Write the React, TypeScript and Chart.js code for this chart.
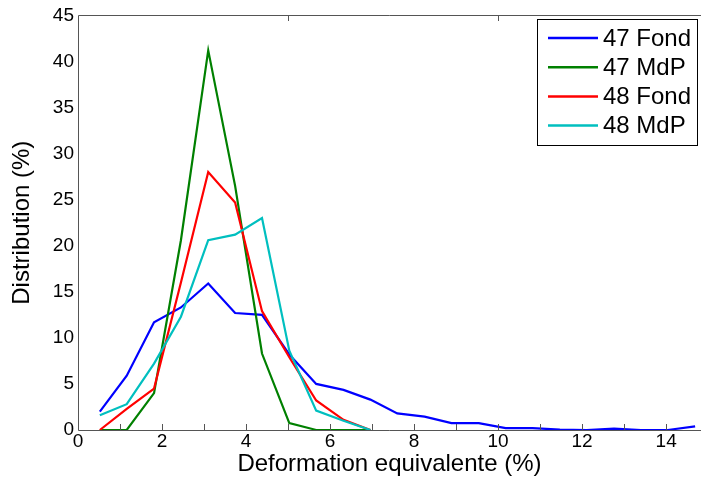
import React, { useEffect, useRef } from "react";
import { Chart, registerables } from "chart.js";

Chart.register(...registerables);

const X_VALUES = [0.52, 1.16, 1.81, 2.45, 3.1, 3.74, 4.38, 5.03, 5.67, 6.32, 6.96, 7.6, 8.25, 8.89, 9.54, 10.18, 10.82, 11.47, 12.11, 12.76, 13.4, 14.04, 14.69];
const FOND_47 = [2.0, 5.9, 11.7, 13.3, 15.9, 12.7, 12.5, 8.2, 5.0, 4.35, 3.3, 1.8, 1.45, 0.75, 0.75, 0.2, 0.2, 0.05, 0, 0.15, 0, 0, 0.4];
const MDP_47 = [0, 0, 4.0, 20.6, 41.2, 26.5, 8.3, 0.75, 0, 0, 0];
const FOND_48 = [0, 2.3, 4.5, 16.0, 28.0, 24.7, 12.9, 7.9, 3.2, 1.1, 0];
const MDP_48 = [1.6, 2.8, 7.2, 12.3, 20.6, 21.2, 23.0, 8.6, 2.1, 1.0, 0];

const SERIES_LABELS = ["47 Fond", "47 MdP", "48 Fond", "48 MdP"];
const SERIES_COLORS = ["#0000ff", "#008000", "#ff0000", "#00bfbf"];

const X_LABEL_TICKS = [0, 2, 4, 6, 8, 10, 12, 14];
const X_MINOR_TICKS = [1, 2, 3, 4, 5, 6, 7, 8, 9, 10, 11, 12, 13, 14];
const X_TOP_TICKS = [5, 10];
const Y_TICKS = [0, 5, 10, 15, 20, 25, 30, 35, 40, 45];

const X_TITLE = "Deformation equivalente (%)";
const Y_TITLE = "Distribution (%)";

const FONT = "'Liberation Sans', Arial, sans-serif";

const toPoints = (vals: number[]) => vals.map((v, i) => ({ x: X_VALUES[i], y: v }));

const framePlugin = {
  id: "frame",
  afterDatasetsDraw(chart: any) {
    const { ctx, chartArea } = chart;
    const { left, right, top, bottom } = chartArea;
    const xs = chart.scales.x;
    ctx.save();
    ctx.strokeStyle = "#555";
    ctx.lineWidth = 1;
    ctx.beginPath();
    ctx.moveTo(Math.round(left) + 0.5, Math.round(top) + 0.5);
    ctx.lineTo(Math.round(left) + 0.5, Math.round(bottom) + 0.5);
    ctx.lineTo(right, Math.round(bottom) + 0.5);
    ctx.moveTo(Math.round(left) + 0.5, Math.round(top) + 0.5);
    ctx.lineTo(right, Math.round(top) + 0.5);
    for (const v of X_MINOR_TICKS) {
      const px = Math.round(xs.getPixelForValue(v)) + 0.5;
      ctx.moveTo(px, Math.round(bottom));
      ctx.lineTo(px, Math.round(bottom) - 6);
    }
    for (const v of X_TOP_TICKS) {
      const px = Math.round(xs.getPixelForValue(v)) + 0.5;
      ctx.moveTo(px, Math.round(top));
      ctx.lineTo(px, Math.round(top) + 6);
    }
    ctx.stroke();
    ctx.restore();
  },
  afterDraw(chart: any) {
    const { ctx } = chart;
    const bx = 537.5, by = 19.5, bw = 160, bh = 126;
    ctx.save();
    ctx.fillStyle = "#fff";
    ctx.fillRect(bx, by, bw, bh);
    ctx.strokeStyle = "#000";
    ctx.lineWidth = 1;
    ctx.strokeRect(bx, by, bw, bh);
    ctx.font = `24px ${FONT}`;
    ctx.textBaseline = "middle";
    ctx.fillStyle = "#000";
    chart.data.datasets.forEach((ds: any, i: number) => {
      const yy = 38 + i * 29.2;
      ctx.strokeStyle = ds.borderColor;
      ctx.lineWidth = 2.5;
      ctx.beginPath();
      ctx.moveTo(548, yy);
      ctx.lineTo(598, yy);
      ctx.stroke();
      ctx.fillText(ds.label, 603, yy + 1);
    });
    ctx.restore();
  },
};

export default function App() {
  const ref = useRef<HTMLCanvasElement | null>(null);
  useEffect(() => {
    if (!ref.current) return;
    const data = [FOND_47, MDP_47, FOND_48, MDP_48];
    const chart = new Chart(ref.current, {
      type: "line",
      data: {
        datasets: data.map((vals, i) => ({
          label: SERIES_LABELS[i],
          data: toPoints(vals),
          borderColor: SERIES_COLORS[i],
          backgroundColor: SERIES_COLORS[i],
          borderWidth: 2.2,
          pointRadius: 0,
          tension: 0,
          fill: false,
          clip: false as any,
          order: 4 - i,
        })),
      },
      options: {
        responsive: false,
        animation: false,
        devicePixelRatio: 1,
        layout: { padding: { top: 15, right: 0, bottom: 0, left: 0 } },
        plugins: { legend: { display: false }, tooltip: { enabled: false } },
        scales: {
          x: {
            type: "linear",
            min: 0,
            max: 14.83,
            afterBuildTicks: (scale: any) => {
              scale.ticks = X_LABEL_TICKS.map((v) => ({ value: v }));
            },
            afterFit: (scale: any) => {
              scale.height = 51;
            },
            ticks: {
              autoSkip: false,
              maxRotation: 0,
              padding: 0,
              color: "#000",
              font: { family: FONT, size: 19 },
              callback: (v: any) => String(v),
            },
            grid: { display: false, drawTicks: false },
            border: { display: false },
            title: {
              display: true,
              text: X_TITLE,
              color: "#000",
              font: { family: FONT, size: 24 },
              padding: { top: 0, bottom: 2 },
            },
          },
          y: {
            type: "linear",
            min: 0,
            max: 45,
            afterBuildTicks: (scale: any) => {
              scale.ticks = Y_TICKS.map((v) => ({ value: v }));
            },
            afterFit: (scale: any) => {
              scale.width = 78;
            },
            ticks: {
              padding: 4,
              color: "#000",
              font: { family: FONT, size: 19 },
            },
            grid: { display: false, drawTicks: false },
            border: { display: false },
            title: {
              display: true,
              text: Y_TITLE,
              color: "#000",
              font: { family: FONT, size: 24 },
              padding: { top: 8, bottom: 0 },
            },
          },
        },
      },
      plugins: [framePlugin],
    });
    return () => chart.destroy();
  }, []);
  return (
    <div style={{ position: "fixed", left: 0, top: 0, width: 701, height: 481, background: "#fff" }}>
      <canvas ref={ref} width={701} height={481} style={{ display: "block" }} />
    </div>
  );
}
